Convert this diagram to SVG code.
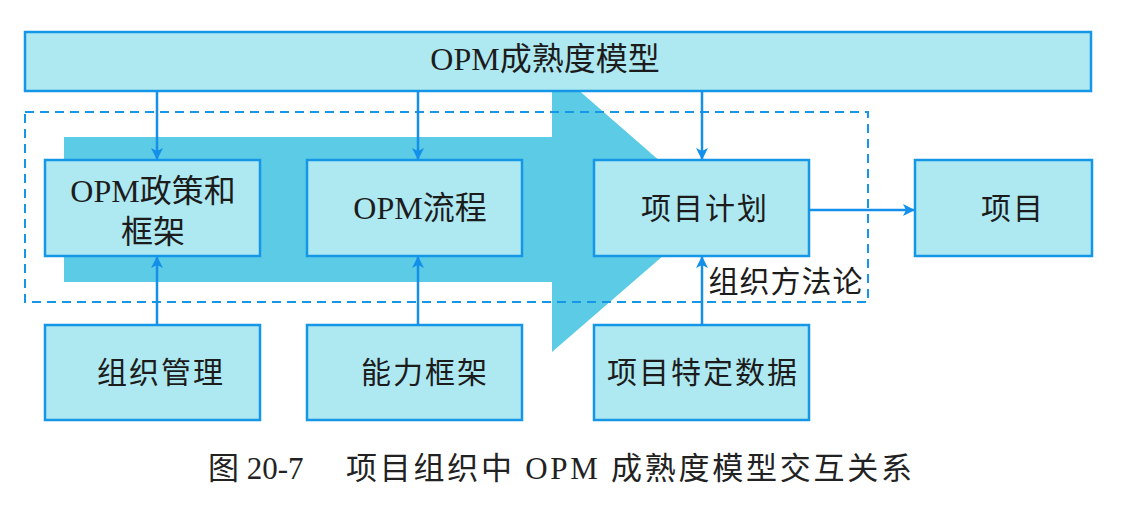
<svg xmlns="http://www.w3.org/2000/svg" width="1144" height="516" viewBox="0 0 1144 516">
<style>
.box{fill:#aee9f2;stroke:#1596e6;stroke-width:2.5}
.lbl{font-family:"Liberation Serif","Noto Sans CJK SC",serif;font-size:32px;fill:#1c1c1c;text-anchor:middle}
.cn{font-family:"Noto Sans CJK SC","Liberation Sans",sans-serif;font-size:30px;fill:#1c1c1c;text-anchor:middle;letter-spacing:2px}
.con{stroke:#1590ea;stroke-width:2.5;fill:none}
.cap{font-family:"Liberation Serif","Noto Sans CJK SC",serif;font-size:31px;fill:#222}
</style>
<defs>
<marker id="ah" markerWidth="12" markerHeight="12" refX="11" refY="6" orient="auto" markerUnits="userSpaceOnUse" viewBox="0 0 12 12">
<path d="M0,0 L12,6 L0,12 L3,6 z" fill="#1590ea"/>
</marker>
</defs>
<rect width="1144" height="516" fill="#ffffff"/>
<g id="bigarrow">
<path d="M64,137 L552,137 L552,67 L716,210 L552,352 L552,282 L64,282 Z" fill="#5ccbe6"/>
</g>
<g id="methodology">
<rect x="25" y="112" width="843" height="190" fill="none" stroke="#1596e6" stroke-width="2" stroke-dasharray="9,6"/>
<text class="cn" x="786" y="292" style="letter-spacing:1px">组织方法论</text>
</g>
<g id="opm-model">
<rect class="box" x="25" y="32" width="1066" height="59"/>
<text class="lbl" x="545" y="70">OPM成熟度模型</text>
</g>
<g id="policy">
<rect class="box" x="45" y="160" width="215" height="96"/>
<text class="lbl" x="153" y="202">OPM政策和</text>
<text class="lbl" x="153" y="243">框架</text>
</g>
<g id="process">
<rect class="box" x="307" y="160" width="215" height="96"/>
<text class="lbl" x="420" y="219">OPM流程</text>
</g>
<g id="plan">
<rect class="box" x="594" y="160" width="215" height="96"/>
<text class="cn" x="705" y="219">项目计划</text>
</g>
<g id="project">
<rect class="box" x="915" y="160" width="177" height="96"/>
<text class="cn" x="1013" y="219">项目</text>
</g>
<g id="orgmgmt">
<rect class="box" x="45" y="325" width="215" height="95"/>
<text class="cn" x="161" y="383">组织管理</text>
</g>
<g id="capability">
<rect class="box" x="307" y="325" width="215" height="95"/>
<text class="cn" x="425" y="383">能力框架</text>
</g>
<g id="projdata">
<rect class="box" x="594" y="325" width="215" height="95"/>
<text class="cn" x="703" y="383">项目特定数据</text>
</g>
<g id="connectors">
<line class="con" x1="157" y1="91" x2="157" y2="159" marker-end="url(#ah)"/>
<line class="con" x1="418" y1="91" x2="418" y2="159" marker-end="url(#ah)"/>
<line class="con" x1="702" y1="91" x2="702" y2="159" marker-end="url(#ah)"/>
<line class="con" x1="157" y1="325" x2="157" y2="257" marker-end="url(#ah)"/>
<line class="con" x1="418" y1="325" x2="418" y2="257" marker-end="url(#ah)"/>
<line class="con" x1="702" y1="325" x2="702" y2="257" marker-end="url(#ah)"/>
<line class="con" x1="809" y1="210" x2="914" y2="210" marker-end="url(#ah)"/>
</g>
<g id="caption">
<text class="cap" x="208" y="479">图 20-7</text>
<text class="cap" x="346" y="479" textLength="566" lengthAdjust="spacing">项目组织中 OPM 成熟度模型交互关系</text>
</g>
</svg>
